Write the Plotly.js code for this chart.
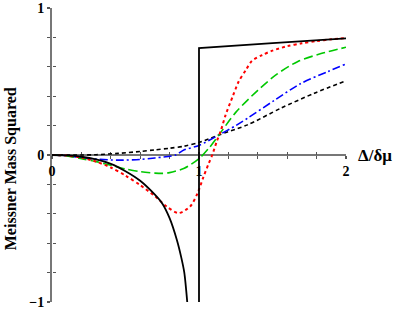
<!DOCTYPE html>
<html>
<head>
<meta charset="utf-8">
<script src="https://cdn.plot.ly/plotly-3.0.1.min.js"></script>
<style>html,body{margin:0;padding:0;background:#fff;}#chart{width:399px;height:314px;}</style>
</head>
<body>
<div id="chart"></div>
<script>
// x = Δ/δμ ; y = Meissner mass squared
var solidLowX = [0, 0.1, 0.2, 0.3, 0.4, 0.5, 0.6, 0.7, 0.75, 0.8, 0.85, 0.88, 0.9, 0.92];
var solidLowY = [0, -0.003, -0.012, -0.03, -0.06, -0.11, -0.175, -0.27, -0.33, -0.43, -0.58, -0.7, -0.8, -1.0];
var solidHighX = [1, 1, 1.5, 2];
var solidHighY = [-1, 0.728, 0.761, 0.794];
var redX = [0, 0.1, 0.2, 0.3, 0.4, 0.5, 0.6, 0.7, 0.78, 0.86, 0.94, 0.99, 1.03, 1.065, 1.09, 1.12, 1.15, 1.18, 1.23, 1.27, 1.32, 1.36, 1.43, 1.5, 1.6, 1.7, 1.8, 1.9, 2.0];
var redY = [0, -0.004, -0.018, -0.045, -0.085, -0.14, -0.205, -0.28, -0.35, -0.395, -0.35, -0.26, -0.15, -0.06, 0, 0.09, 0.17, 0.27, 0.40, 0.50, 0.58, 0.64, 0.68, 0.71, 0.74, 0.76, 0.775, 0.787, 0.795];
var greenX = [0, 0.1, 0.2, 0.3, 0.4, 0.5, 0.6, 0.7, 0.75, 0.8, 0.9, 1.0, 1.07, 1.135, 1.25, 1.4, 1.53, 1.67, 1.83, 2.0];
var greenY = [0, -0.006, -0.025, -0.045, -0.07, -0.095, -0.113, -0.123, -0.125, -0.12, -0.09, -0.025, 0.05, 0.136, 0.29, 0.44, 0.55, 0.635, 0.69, 0.733];
var blueX = [0, 0.1, 0.2, 0.3, 0.45, 0.6, 0.7, 0.84, 0.9, 1.0, 1.135, 1.25, 1.33, 1.51, 1.69, 1.875, 2.0];
var blueY = [0, -0.005, -0.018, -0.028, -0.035, -0.03, -0.02, 0, 0.035, 0.065, 0.136, 0.2, 0.25, 0.37, 0.485, 0.567, 0.619];
var dashX = [0, 0.2, 0.3, 0.45, 0.6, 0.7, 0.8, 0.9, 1.0, 1.135, 1.33, 1.556, 1.784, 2.0];
var dashY = [0, 0, 0.002, 0.011, 0.024, 0.035, 0.046, 0.06, 0.085, 0.136, 0.205, 0.318, 0.42, 0.505];

var xTickVals = [0, 0.2, 0.4, 0.6, 0.8, 1, 1.2, 1.4, 1.6, 1.8, 2];
var xTickText = ['0', '', '', '', '', '1', '', '', '', '', '2'];
var yTickVals = [-1, -0.8, -0.6, -0.4, -0.2, 0, 0.2, 0.4, 0.6, 0.8, 1];
var yTickText = ['\u22121', '', '', '', '', '0', '', '', '', '', '1'];
var xTitle = '\u0394/\u03b4\u03bc';
var yTitle = 'Meissner Mass Squared';

var serif = 'Liberation Serif, Times New Roman, serif';
function tr(x, y, color, dash, width, shape) {
  return {x: x, y: y, type: 'scatter', mode: 'lines', hoverinfo: 'skip',
    line: {color: color, dash: dash, width: width, shape: shape || 'spline', smoothing: 0.8}};
}
var data = [
  tr(dashX, dashY, '#000000', '4px,3px', 1.6),
  tr(blueX, blueY, '#0000ff', '8px,3px,2px,3px', 1.6),
  tr(greenX, greenY, '#00c800', '9px,4px', 1.6),
  tr(redX, redY, '#ff0000', 'dot', 2),
  tr(solidLowX, solidLowY, '#000000', 'solid', 1.8),
  tr(solidHighX, solidHighY, '#000000', 'solid', 1.8, 'linear'),
  {x: [null], y: [null], xaxis: 'x2', yaxis: 'y2', type: 'scatter', mode: 'lines', showlegend: false, hoverinfo: 'skip'}
];
var axCommon = {showgrid: false, zeroline: false, fixedrange: true, layer: 'below traces'};
var layout = {
  width: 399, height: 314,
  margin: {l: 52, r: 53, t: 8, b: 12},
  paper_bgcolor: '#ffffff', plot_bgcolor: '#ffffff',
  showlegend: false,
  xaxis: Object.assign({}, axCommon, {
    range: [0, 2], anchor: 'free', position: 0.5,
    showline: true, linecolor: '#777777', linewidth: 2,
    ticks: 'outside', ticklen: 3, tickwidth: 1.2, tickcolor: '#555555',
    tickvals: xTickVals, ticktext: xTickText,
    tickfont: {family: serif, size: 14, color: '#000000', weight: 'bold'}
  }),
  yaxis: Object.assign({}, axCommon, {
    range: [-1, 1], anchor: 'x',
    showline: true, linecolor: '#777777', linewidth: 2,
    ticks: 'outside', ticklen: 3, tickwidth: 1.2, tickcolor: '#555555',
    tickvals: yTickVals, ticktext: yTickText,
    tickfont: {family: serif, size: 14, color: '#000000', weight: 'bold'}
  }),
  xaxis2: Object.assign({}, axCommon, {
    range: [0, 2], overlaying: 'x', anchor: 'free', position: 0.5,
    showline: false, ticks: 'inside', ticklen: 3, tickwidth: 1.2, tickcolor: '#555555',
    tickvals: xTickVals, showticklabels: false
  }),
  yaxis2: Object.assign({}, axCommon, {
    range: [-1, 1], overlaying: 'y', anchor: 'free', position: 0, side: 'left',
    showline: false, ticks: 'inside', ticklen: 3, tickwidth: 1.2, tickcolor: '#555555',
    tickvals: yTickVals, showticklabels: false
  }),
  annotations: [
    {text: xTitle, xref: 'x', yref: 'y', x: 2, y: 0, xanchor: 'left', yanchor: 'middle',
     xshift: 10, showarrow: false, font: {family: serif, size: 17, color: '#000000', weight: 'bold'}},
    {text: yTitle, xref: 'paper', yref: 'paper', x: -0.139, y: 0.452, textangle: -90,
     xanchor: 'center', yanchor: 'middle', showarrow: false,
     font: {family: serif, size: 16, color: '#000000', weight: 'bold'}}
  ]
};
Plotly.newPlot('chart', data, layout, {staticPlot: true, displayModeBar: false});
</script>
</body>
</html>
